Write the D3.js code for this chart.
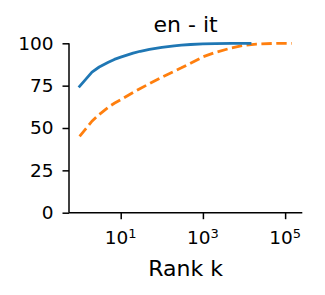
<!DOCTYPE html>
<html>
<head>
<meta charset="utf-8">
<script src="https://cdn.jsdelivr.net/npm/d3@7"></script>
<style>
  html, body { margin: 0; padding: 0; background: #fff; }
  svg { display: block; }
  text { font-family: "DejaVu Sans", sans-serif; fill: #000; }
</style>
</head>
<body>
<svg id="chart" width="325" height="295"></svg>
<script>
const title = "en - it";
const xLabel = "Rank k";
const yTicks = [0, 25, 50, 75, 100];
const xTickExponents = [1, 3, 5];

const blueK = [1, 2, 3, 5, 7, 10, 20, 30, 50, 100, 200, 300, 500, 1000, 2000, 5000, 10000, 14000];
const blueV = [74.6, 83.0, 86.0, 88.8, 90.5, 91.8, 94.2, 95.3, 96.4, 97.6, 98.5, 98.9, 99.3, 99.7, 99.85, 99.95, 100, 100];

const orangeK = [1, 2, 3, 5, 7, 10, 20, 30, 50, 100, 200, 300, 500, 1000, 2000, 5000, 10000, 20000, 50000, 100000, 145000];
const orangeV = [45.0, 54.0, 58.0, 62.3, 64.6, 66.7, 71.0, 73.3, 76.2, 80.0, 83.5, 85.5, 88.2, 92.0, 94.6, 97.3, 98.8, 99.5, 99.9, 100, 100];

const svg = d3.select("#chart");
const mLeft = 69, mRight = 302.3, mTop = 43.3, mBottom = 212.7;

const x = d3.scaleLog()
  .domain([Math.pow(10, -0.258), Math.pow(10, 5.418)])
  .range([mLeft, mRight]);
const y = d3.scaleLinear().domain([0, 100]).range([mBottom, mTop]);

const line = d3.line().x(d => x(d[0])).y(d => y(d[1]));

// lines
svg.append("path")
  .datum(orangeK.map((k, i) => [k, orangeV[i]]))
  .attr("d", line)
  .attr("fill", "none")
  .attr("stroke", "#ff7f0e")
  .attr("stroke-width", 2.8)
  .attr("stroke-dasharray", "10.4,4.5");

svg.append("path")
  .datum(blueK.map((k, i) => [k, blueV[i]]))
  .attr("d", line)
  .attr("fill", "none")
  .attr("stroke", "#1f77b4")
  .attr("stroke-width", 2.8)
  .attr("stroke-linejoin", "round")
  .attr("stroke-linecap", "square");

// y axis
const yAxis = d3.axisLeft(y).tickValues(yTicks).tickSize(6.5).tickPadding(9);
const gy = svg.append("g").attr("transform", `translate(${mLeft},0)`).call(yAxis);
gy.select(".domain").attr("d", `M0,${mBottom}V${mTop}`).attr("stroke", "#000").attr("stroke-width", 1.5);
gy.selectAll(".tick line").attr("stroke", "#000").attr("stroke-width", 1.5);
gy.selectAll(".tick text")
  .attr("font-family", "DejaVu Sans")
  .attr("font-size", 18.5)
  .attr("fill", "#000");

// x axis
const xAxis = d3.axisBottom(x)
  .tickValues(xTickExponents.map(e => Math.pow(10, e)))
  .tickSize(6.5).tickFormat("");
const gx = svg.append("g").attr("transform", `translate(0,${mBottom})`).call(xAxis);
gx.select(".domain").attr("d", `M${mLeft},0H${mRight}`).attr("stroke", "#000").attr("stroke-width", 1.5);
gx.selectAll(".tick line").attr("stroke", "#000").attr("stroke-width", 1.5);

xTickExponents.forEach(e => {
  const t = svg.append("text")
    .attr("x", x(Math.pow(10, e)))
    .attr("y", 244)
    .attr("text-anchor", "middle")
    .attr("font-size", 18.5);
  t.append("tspan").text("10");
  t.append("tspan").attr("dy", -6).attr("font-size", 13).text(String(e));
});

// title
svg.append("text")
  .attr("x", (mLeft + mRight) / 2)
  .attr("y", 31.5)
  .attr("text-anchor", "middle")
  .attr("font-size", 22)
  .text(title);

// x label
svg.append("text")
  .attr("x", (mLeft + mRight) / 2)
  .attr("y", 275.5)
  .attr("text-anchor", "middle")
  .attr("font-size", 22)
  .text(xLabel);
</script>
</body>
</html>
